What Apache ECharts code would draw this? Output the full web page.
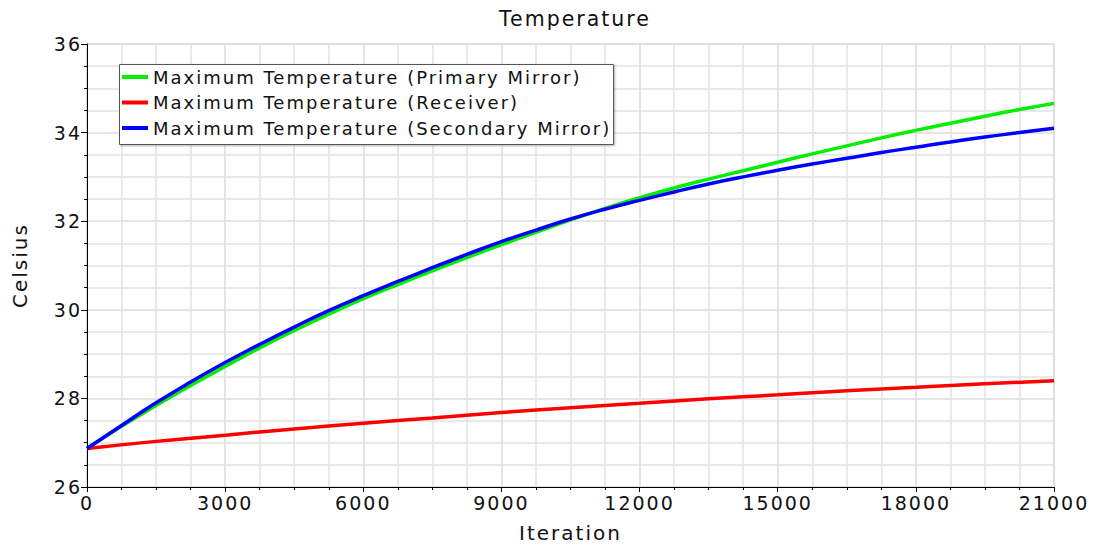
<!DOCTYPE html>
<html>
<head>
<meta charset="utf-8">
<script src="https://cdn.jsdelivr.net/npm/echarts@6/dist/echarts.min.js"></script>
<style>
  html, body { margin: 0; padding: 0; background: #fff; }
  #chart { width: 1094px; height: 548px; }
  /* the source plot uses a widely spaced font */
  #chart svg text { letter-spacing: 2px; }
</style>
</head>
<body>
<div id="chart"></div>
<script>
// iteration steps for the mirror curves
const iterations = [0, 750, 1500, 2250, 3000, 3750, 4500, 5250, 6000, 6750, 7500, 8250, 9000, 9750,
  10500, 11250, 12000, 12750, 13500, 14250, 15000, 15750, 16500, 17250, 18000, 18750, 19500, 20250, 21000];

const primaryMirror = [26.87, 27.37, 27.84, 28.29, 28.72, 29.14, 29.53, 29.90, 30.25, 30.57, 30.88, 31.18, 31.47, 31.75,
  32.03, 32.29, 32.53, 32.75, 32.95, 33.14, 33.33, 33.52, 33.70, 33.88, 34.05, 34.21, 34.37, 34.52, 34.66];

const secondaryMirror = [26.87, 27.39, 27.90, 28.37, 28.81, 29.22, 29.61, 29.98, 30.32, 30.64, 30.95, 31.25, 31.54, 31.80,
  32.05, 32.27, 32.47, 32.66, 32.84, 33.00, 33.15, 33.29, 33.42, 33.55, 33.67, 33.79, 33.90, 34.00, 34.10];

// receiver curve is almost straight, coarser steps are enough
const receiverIterations = [0, 1500, 3000, 4500, 6000, 7500, 9000, 10500, 12000, 13500, 15000, 16500, 18000, 19500, 21000];
const receiver = [26.87, 27.03, 27.17, 27.31, 27.44, 27.56, 27.68, 27.79, 27.89, 27.99, 28.08, 28.17, 28.25, 28.33, 28.40];

const seriesNames = [
  "Maximum Temperature (Primary Mirror)",
  "Maximum Temperature (Receiver)",
  "Maximum Temperature (Secondary Mirror)",
];
const seriesColors = ["#00ee00", "#ff0000", "#0000ff"];

const zip = (xs, ys) => xs.map((x, i) => [x, ys[i]]);

const font = "DejaVu Sans";
const gridColor = "#e2e2e2";

const chart = echarts.init(document.getElementById("chart"), null, { renderer: "svg" });

const makeLine = (name, color, data) => ({
  name: name,
  type: "line",
  data: data,
  showSymbol: false,
  symbol: "none",
  smooth: true,
  lineStyle: { color: color, width: 3.5 },
  itemStyle: { color: color },
  animation: false,
});

const option = {
  backgroundColor: "#fff",
  textStyle: { fontFamily: font },
  title: {
    text: "Temperature",
    left: 570,
    textAlign: "center",
    top: 3,
    textStyle: { fontFamily: font, fontSize: 20.5, fontWeight: "normal", color: "#111" },
  },
  // legend frame is drawn separately, the spaced text is wider than echarts measures
  graphic: [
    {
      type: "rect",
      left: 119,
      top: 64,
      z: 3,
      shape: { width: 494, height: 80 },
      style: {
        fill: "#fff",
        stroke: "#555",
        lineWidth: 1,
        shadowColor: "rgba(0,0,0,0.3)",
        shadowBlur: 2,
        shadowOffsetX: 1,
        shadowOffsetY: 1,
      },
    },
  ],
  legend: {
    orient: "vertical",
    left: 122,
    top: 68,
    z: 5,
    data: seriesNames,
    icon: "rect",
    itemWidth: 26,
    itemHeight: 4,
    itemGap: 7.5,
    padding: 0,
    borderWidth: 0,
    textStyle: { fontFamily: font, fontSize: 18, color: "#111" },
  },
  grid: {
    left: 87,
    right: 40,
    top: 44,
    bottom: 61,
    show: true,
    borderColor: "#c8c8c8",
    borderWidth: 1,
  },
  xAxis: {
    type: "value",
    min: 0,
    max: 21000,
    interval: 3000,
    name: "Iteration",
    nameLocation: "middle",
    nameGap: 36,
    nameTextStyle: { fontFamily: font, fontSize: 20, color: "#111" },
    axisLine: { show: true, lineStyle: { color: "#000", width: 1 } },
    axisTick: { show: true, length: 5, lineStyle: { color: "#000" } },
    minorTick: { show: true, splitNumber: 4, length: 3, lineStyle: { color: "#000" } },
    axisLabel: { fontFamily: font, fontSize: 19, color: "#111", margin: 6, formatter: (v) => String(v) },
    splitLine: { show: true, lineStyle: { color: "#dcdcdc", width: 1.5 } },
    minorSplitLine: { show: true, lineStyle: { color: gridColor, width: 1.5 } },
  },
  yAxis: {
    type: "value",
    min: 26,
    max: 36,
    interval: 2,
    name: "Celsius",
    nameLocation: "middle",
    nameGap: 57,
    nameRotate: 90,
    nameTextStyle: { fontFamily: font, fontSize: 20, color: "#111" },
    axisLine: { show: true, lineStyle: { color: "#000", width: 1 } },
    axisTick: { show: true, length: 6, lineStyle: { color: "#000" } },
    minorTick: { show: true, splitNumber: 4, length: 3, lineStyle: { color: "#000" } },
    axisLabel: { fontFamily: font, fontSize: 19, color: "#111", margin: 5 },
    splitLine: { show: true, lineStyle: { color: "#dcdcdc", width: 1.5 } },
    minorSplitLine: { show: true, lineStyle: { color: gridColor, width: 1.5 } },
  },
  series: [
    makeLine(seriesNames[0], seriesColors[0], zip(iterations, primaryMirror)),
    makeLine(seriesNames[1], seriesColors[1], zip(receiverIterations, receiver)),
    makeLine(seriesNames[2], seriesColors[2], zip(iterations, secondaryMirror)),
  ],
  animation: false,
};

chart.setOption(option);
</script>
</body>
</html>
